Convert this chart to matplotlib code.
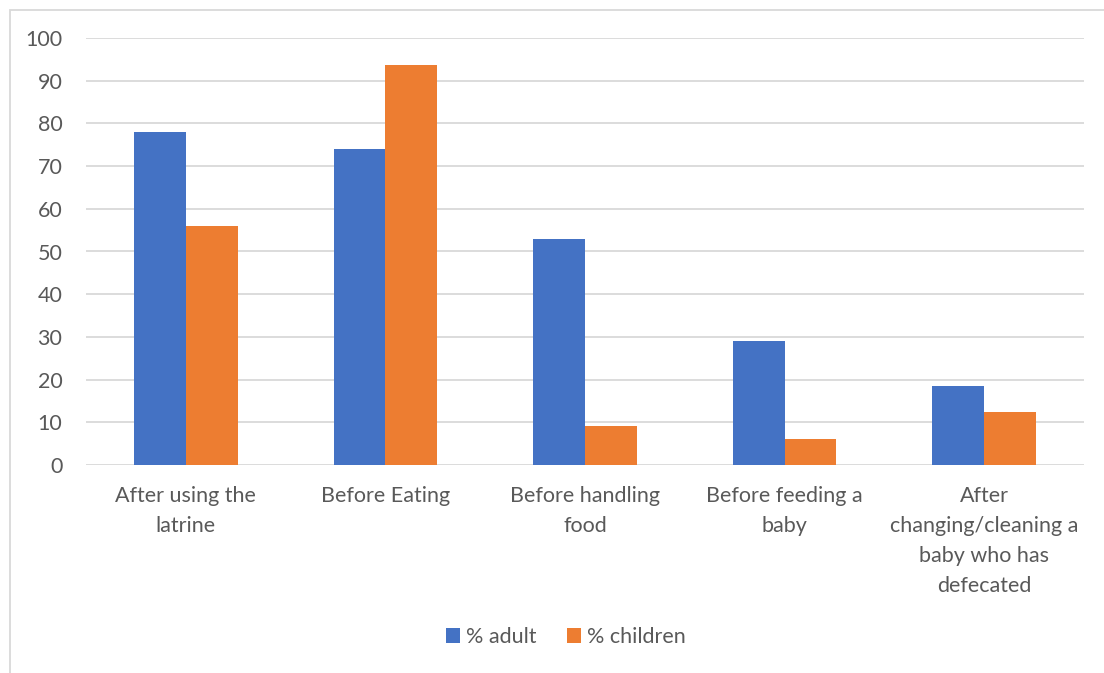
import numpy as np
import matplotlib.pyplot as plt
from matplotlib.patches import Rectangle

categories = ["After using the\nlatrine", "Before Eating", "Before handling\nfood",
              "Before feeding a\nbaby", "After\nchanging/cleaning a\nbaby who has\ndefecated"]
adult = [78, 74, 53, 29, 18.6]
children = [56, 93.7, 9.2, 6.2, 12.4]
series_names = ["% adult", "% children"]

plt.rcParams['font.family'] = ['Lato', 'DejaVu Sans']
text_color = '#595959'

fig = plt.figure(figsize=(11.04, 6.73), dpi=100)
W, H = 1104, 673
ax = fig.add_axes([86 / W, 1 - 465 / H, (1084 - 86) / W, (465 - 38) / H])

x = np.arange(len(categories))
w = 0.26
b1 = ax.bar(x - w / 2, adult, w, color='#4472C4', label=series_names[0], zorder=3)
b2 = ax.bar(x + w / 2, children, w, color='#ED7D31', label=series_names[1], zorder=3)

ax.set_xlim(-0.5, len(categories) - 0.5)
ax.set_ylim(0, 100)
ax.set_yticks(range(0, 101, 10))
ax.set_xticks(x)
ax.set_xticklabels(categories, linespacing=1.62)
ax.grid(axis='y', color='#d9d9d9', linewidth=1.3, zorder=0)
for s in ax.spines.values():
    s.set_visible(False)
ax.tick_params(axis='both', length=0, labelsize=15.5, labelcolor=text_color)
ax.tick_params(axis='y', pad=17)
ax.tick_params(axis='x', pad=15)

fig.legend(handles=[b1, b2], loc='center', bbox_to_anchor=(566 / W, 1 - 637 / H),
           ncol=2, frameon=False, fontsize=15.5, labelcolor=text_color,
           handlelength=0.65, handleheight=0.65, handletextpad=0.3, columnspacing=1.4)

# chart border
fig.patches.append(Rectangle((10 / W, -0.01), 1.02, 1 - 10 / H + 0.01,
                             transform=fig.transFigure, fill=False,
                             edgecolor='#d9d9d9', linewidth=1.3))

fig.savefig('out.png', dpi=100)
